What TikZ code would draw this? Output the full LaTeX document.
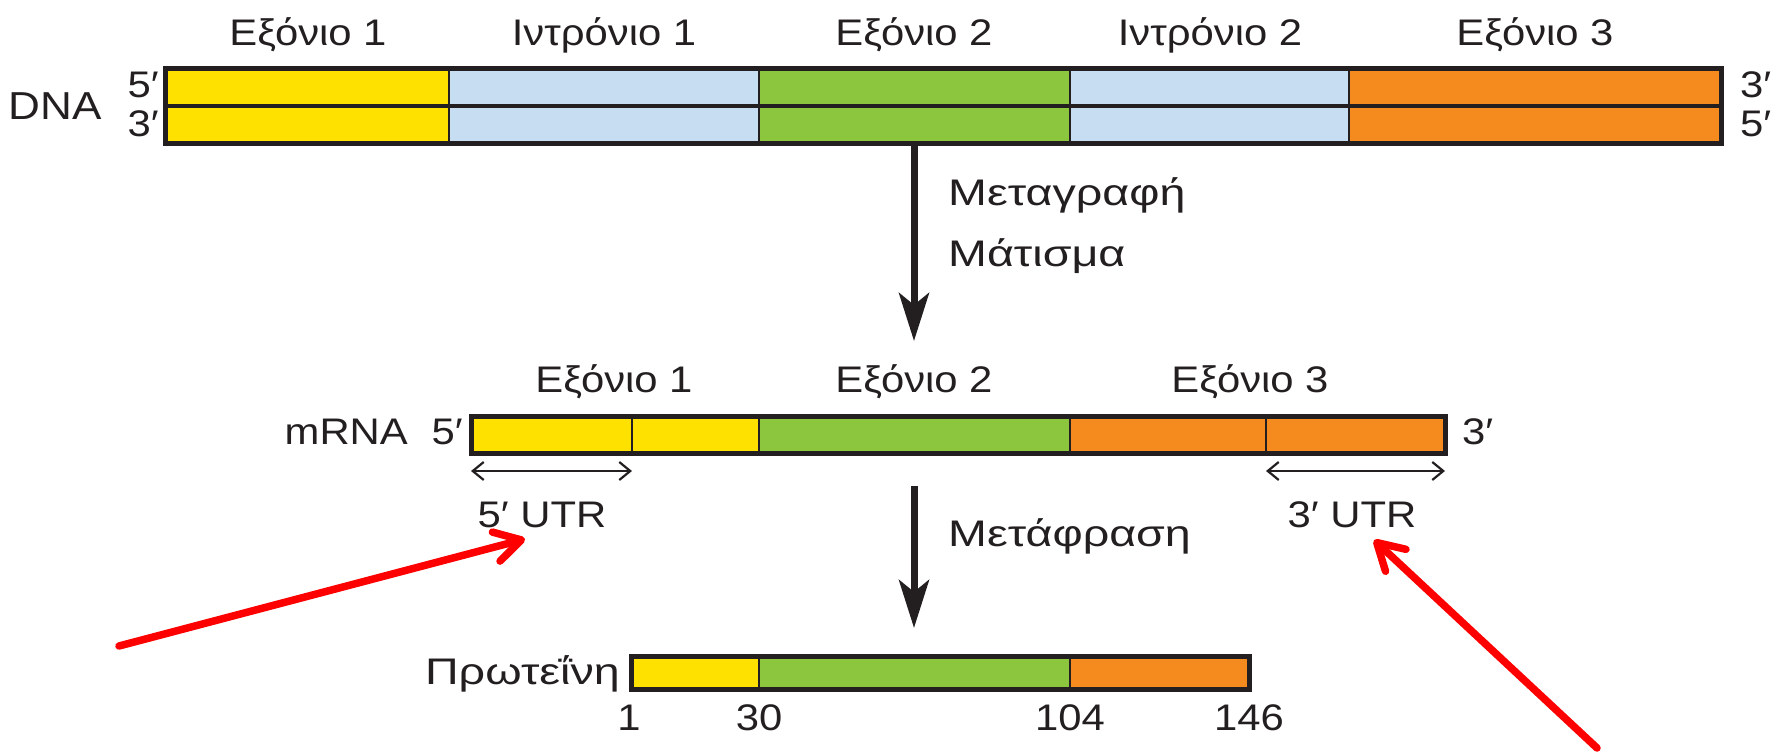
\documentclass[tikz,border=0pt]{standalone}
\usepackage{fontspec}
\setmainfont[FakeStretch=1.13]{Liberation Sans}
\newfontfamily\widegreek[FakeStretch=1.26]{Liberation Sans}
\usetikzlibrary{arrows.meta}
\definecolor{yel}{HTML}{FFE100}
\definecolor{lblue}{HTML}{C6DDF2}
\definecolor{grn}{HTML}{8CC63F}
\definecolor{org}{HTML}{F58B1F}
\definecolor{ink}{HTML}{231F20}
\definecolor{redarr}{HTML}{FF0000}
\begin{document}
\begin{tikzpicture}[x=1pt,y=-1pt,
  lbl/.style={text=ink, font=\fontsize{37}{40}\selectfont, inner sep=0pt},
  wlbl/.style={text=ink, font=\widegreek\fontsize{37}{40}\selectfont, inner sep=0pt},
  outline/.style={draw=ink, line width=5pt},
  divider/.style={draw=ink, line width=2.5pt},
  bigarrow/.style={draw=ink, line width=7pt, -{Stealth[length=48pt, width=30pt, inset=12pt]}},
  utrarrow/.style={draw=ink, line width=2.2pt, {Straight Barb[length=11pt, width=18pt]}-{Straight Barb[length=11pt, width=18pt]}},
  redarrow/.style={draw=redarr, line width=7.5pt, line cap=round, -{Straight Barb[length=26pt, width=30pt, line cap=round, line join=round]}}
]
\useasboundingbox (0,0) rectangle (1781,753);

% ---------- DNA ----------
\fill[yel]   (165,68) rectangle (449,143);
\fill[lblue] (449,68) rectangle (759,143);
\fill[grn]   (759,68) rectangle (1070,143);
\fill[lblue] (1070,68) rectangle (1349,143);
\fill[org]   (1349,68) rectangle (1721,143);
\foreach \xx in {449,759,1070,1349} \draw[divider] (\xx,68) -- (\xx,143);
\draw[ink, line width=4pt] (165,105.5) -- (1721,105.5);
\draw[outline] (165,68) rectangle (1721,143);

\node[lbl, anchor=base] (dh1) at (308,45) {Εξόνιο 1};
\node[lbl, anchor=base] (dh2) at (604,45) {Ιντρόνιο 1};
\node[lbl, anchor=base] (dh3) at (914,45) {Εξόνιο 2};
\node[lbl, anchor=base] (dh4) at (1210,45) {Ιντρόνιο 2};
\node[lbl, anchor=base] (dh5) at (1535,45) {Εξόνιο 3};

\node[lbl, anchor=base east, font=\fontsize{39}{40}\selectfont] (dna) at (102,119) {DNA};
\node[lbl, anchor=base east] (d5l) at (159,97) {5′};
\node[lbl, anchor=base east] (d3l) at (159,136) {3′};
\node[lbl, anchor=base west] (d3r) at (1740,97) {3′};
\node[lbl, anchor=base west] (d5r) at (1740,136) {5′};

% ---------- arrow 1 ----------
\coordinate (a1s) at (914,143);
\coordinate (a1e) at (914,341);
\draw[bigarrow] (a1s) -- (a1e);
\node[wlbl, anchor=base west] (tr) at (948,205) {Μεταγραφή};
\node[wlbl, anchor=base west] (sp) at (948,266) {Μάτισμα};

% ---------- mRNA ----------
\fill[yel] (471,416) rectangle (759,453);
\fill[grn] (759,416) rectangle (1070,453);
\fill[org] (1070,416) rectangle (1445,453);
\foreach \xx in {632,759,1070,1266} \draw[divider] (\xx,416) -- (\xx,453);
\draw[outline] (471,416) rectangle (1445,453);

\node[lbl, anchor=base] (mh1) at (614,392) {Εξόνιο 1};
\node[lbl, anchor=base] (mh2) at (914,392) {Εξόνιο 2};
\node[lbl, anchor=base] (mh3) at (1250,392) {Εξόνιο 3};

\node[lbl, anchor=base east] (mrna) at (408,444) {mRNA};
\node[lbl, anchor=base east] (m5) at (463,444) {5′};
\node[lbl, anchor=base west] (m3) at (1462,444) {3′};

\coordinate (u5a) at (471,471);
\coordinate (u5b) at (632,471);
\coordinate (u3a) at (1266,471);
\coordinate (u3b) at (1445,471);
\draw[utrarrow] (u5a) -- (u5b);
\draw[utrarrow] (u3a) -- (u3b);
\node[lbl, anchor=base] (utr5) at (542,527) {5′ UTR};
\node[lbl, anchor=base] (utr3) at (1352,527) {3′ UTR};

% ---------- arrow 2 ----------
\coordinate (a2s) at (914,486);
\coordinate (a2e) at (914,628);
\draw[bigarrow] (a2s) -- (a2e);
\node[wlbl, anchor=base west] (tl) at (948,546) {Μετάφραση};

% ---------- protein ----------
\fill[yel] (631,656) rectangle (759,689);
\fill[grn] (759,656) rectangle (1070,689);
\fill[org] (1070,656) rectangle (1249,689);
\foreach \xx in {759,1070} \draw[divider] (\xx,656) -- (\xx,689);
\draw[outline] (631,656) rectangle (1249,689);

\node[wlbl, anchor=base east] (prot) at (620,684) {Πρωτεΐνη};
\node[lbl, anchor=base] (n1) at (629,730) {1};
\node[lbl, anchor=base] (n30) at (759,730) {30};
\node[lbl, anchor=base] (n104) at (1070,730) {104};
\node[lbl, anchor=base] (n146) at (1249,730) {146};

% ---------- red arrows ----------
\coordinate (r1s) at (119,646);
\coordinate (r1e) at (525,539);
\coordinate (r2s) at (1597,748);
\coordinate (r2e) at (1374,540);
\draw[redarrow] (r1s) -- (r1e);
\draw[redarrow] (r2s) -- (r2e);
\end{tikzpicture}
\end{document}
